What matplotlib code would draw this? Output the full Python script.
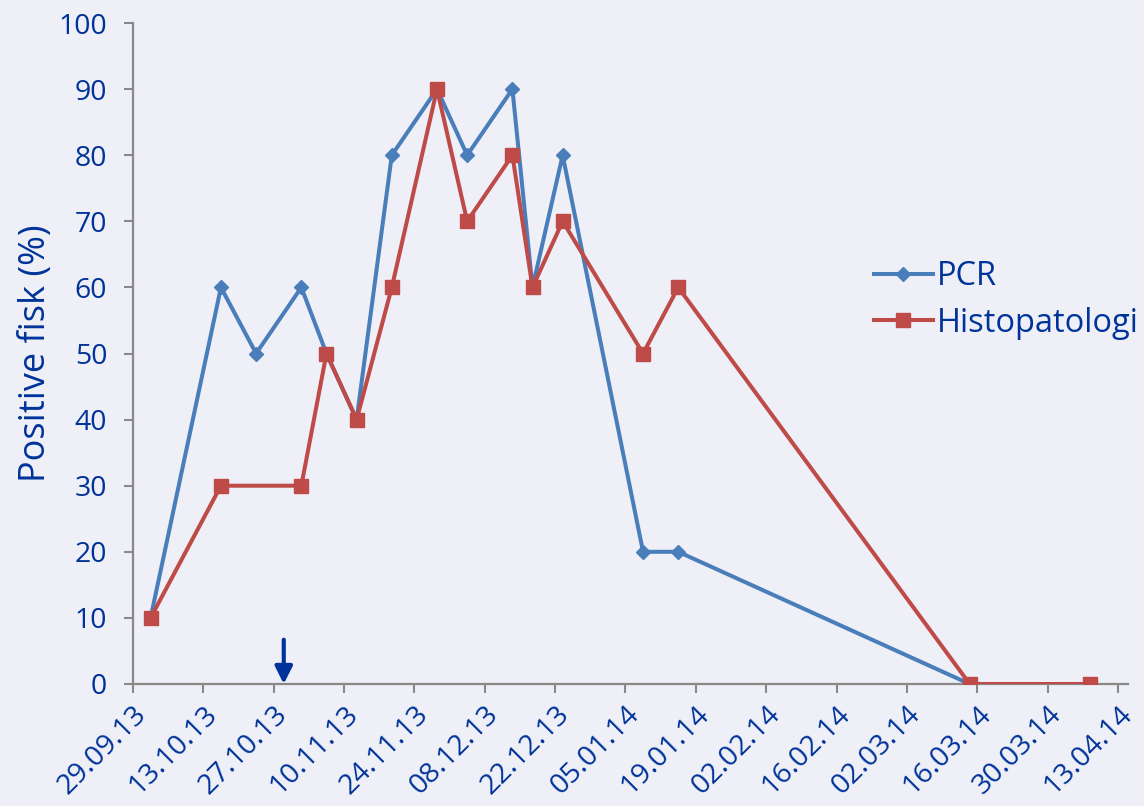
import matplotlib
matplotlib.use("Agg")
import matplotlib.pyplot as plt
import matplotlib.dates as mdates
import pandas as pd

# Sampling dates and percentages of positive fish
pcr_dates = ["2013-10-02", "2013-10-16", "2013-10-23", "2013-11-01", "2013-11-06",
             "2013-11-12", "2013-11-19", "2013-11-28", "2013-12-04", "2013-12-13",
             "2013-12-17", "2013-12-23", "2014-01-08", "2014-01-15", "2014-03-14"]
pcr_values = [10, 60, 50, 60, 50, 40, 80, 90, 80, 90, 60, 80, 20, 20, 0]

histo_dates = ["2013-10-02", "2013-10-16", "2013-11-01", "2013-11-06",
               "2013-11-12", "2013-11-19", "2013-11-28", "2013-12-04", "2013-12-13",
               "2013-12-17", "2013-12-23", "2014-01-08", "2014-01-15", "2014-03-14",
               "2014-04-07"]
histo_values = [10, 30, 30, 50, 40, 60, 90, 70, 80, 60, 70, 50, 60, 0, 0]

series_names = ["PCR", "Histopatologi"]
y_label = "Positive fisk (%)"
marker_date = "2013-10-29"  # arrow marking the event date

BG = "#EFF0F7"
TXT = "#003399"
BLUE = "#4A7EBB"
RED = "#BE4B48"
AXIS = "#898989"

plt.rcParams["font.family"] = ["Open Sans", "DejaVu Sans"]

fig = plt.figure(figsize=(11.44, 8.06), dpi=100, facecolor=BG)
ax = fig.add_axes([133 / 1144, 1 - 684 / 806, (1128 - 133) / 1144, (684 - 23) / 806])
ax.set_facecolor(BG)

# points sit in the middle of their day
half_day = pd.Timedelta(hours=12)
px = pd.to_datetime(pcr_dates) + half_day
hx = pd.to_datetime(histo_dates) + half_day

ax.plot(px, pcr_values, color=BLUE, lw=2.9, marker="D", ms=7.2,
        mfc=BLUE, mec=BLUE, label=series_names[0], zorder=3)
ax.plot(hx, histo_values, color=RED, lw=2.9, marker="s", ms=10.5,
        mfc=RED, mec=RED, label=series_names[1], zorder=4)

ticks = pd.date_range("2013-09-29", "2014-04-13", freq="14D")
ax.set_xticks(ticks)
ax.xaxis.set_major_formatter(mdates.DateFormatter("%d.%m.%y"))
ax.set_xlim(pd.Timestamp("2013-09-29"), pd.Timestamp("2014-04-15"))
ax.set_ylim(0, 100)
ax.set_yticks(range(0, 101, 10))

for s in ["top", "right"]:
    ax.spines[s].set_visible(False)
for s in ["left", "bottom"]:
    ax.spines[s].set_color(AXIS)
    ax.spines[s].set_linewidth(1.6)

ax.tick_params(axis="y", direction="out", length=6.5, width=1.5, color=AXIS,
               labelsize=20.5, labelcolor=TXT, pad=12)
ax.tick_params(axis="x", direction="out", length=6.5, width=1.5, color=AXIS,
               labelsize=20.5, labelcolor=TXT, pad=5)
for lbl in ax.get_xticklabels():
    lbl.set_rotation(45)
    lbl.set_ha("right")
    lbl.set_va("top")
    lbl.set_rotation_mode("anchor")

ax.set_ylabel(y_label, fontsize=26, color=TXT, labelpad=3)

# event arrow pointing down onto the time axis
md = pd.Timestamp(marker_date)
ax.annotate("", xy=(md, 0), xytext=(md, 6.7),
            arrowprops=dict(arrowstyle="-|>", color=TXT, lw=3,
                            mutation_scale=26, shrinkA=0, shrinkB=0),
            zorder=5, annotation_clip=False)

leg = ax.legend(loc="center left", bbox_to_anchor=(874 / 1144, 1 - 300 / 806),
                bbox_transform=fig.transFigure, frameon=False, fontsize=23.5,
                handlelength=1.8, handletextpad=0.12, labelspacing=0.4,
                borderpad=0, borderaxespad=0)
for t in leg.get_texts():
    t.set_color(TXT)

fig.savefig("out.png", dpi=100, facecolor=BG)
